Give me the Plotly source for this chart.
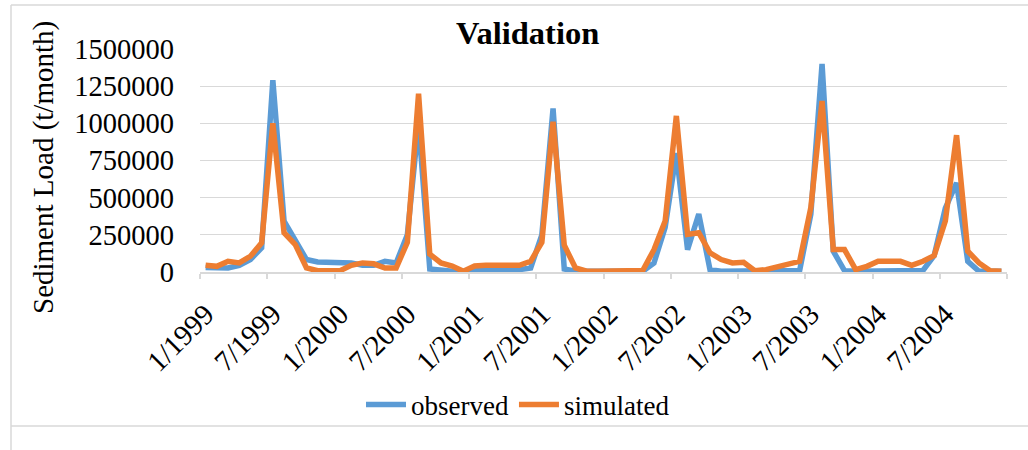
import plotly.graph_objects as go

# ---- data (monthly sediment load, t/month), Jan 1999 .. Dec 2004 ----
tick_labels = ["1/1999", "7/1999", "1/2000", "7/2000", "1/2001", "7/2001",
               "1/2002", "7/2002", "1/2003", "7/2003", "1/2004", "7/2004"]

observed = [
    30000, 27000, 27000, 45000, 84000, 163000, 1290000, 343000, 208000, 84000, 68000, 68000,
    61000, 61000, 45000, 45000, 72000, 61000, 250000, 1000000, 20000, 9000, 5000, 5000,
    9000, 16000, 16000, 16000, 16000, 27000, 250000, 1100000, 20000, 5000, 5000, 5000,
    5000, 5000, 5000, 5000, 60000, 300000, 800000, 150000, 390000, 16000, 5000, 5000,
    5000, 5000, 5000, 5000, 5000, 10000, 390000, 1400000, 140000, 9000, 5000, 5000,
    5000, 5000, 5000, 5000, 10000, 110000, 430000, 600000, 72000, 5000, 5000, 5000,
]
simulated = [
    45000, 38000, 72000, 61000, 106000, 196000, 1000000, 264000, 185000, 27000, 9000, 9000,
    9000, 45000, 61000, 55000, 27000, 27000, 200000, 1200000, 120000, 61000, 40000, 5000,
    40000, 45000, 45000, 45000, 45000, 72000, 200000, 1010000, 180000, 27000, 5000, 5000,
    5000, 5000, 5000, 10000, 150000, 343000, 1050000, 253000, 264000, 129000, 84000, 61000,
    65000, 9000, 16000, 32000, 50000, 72000, 434000, 1150000, 151000, 151000, 16000, 38000,
    72000, 72000, 72000, 45000, 72000, 110000, 343000, 920000, 140000, 61000, 9000, 5000,
]
y_ticks = [0, 250000, 500000, 750000, 1000000, 1250000, 1500000]

x = list(range(len(observed)))
tick_pos = list(range(0, len(observed), 6))

FONT = "Liberation Serif"
GRID = "#D9D9D9"

fig = go.Figure()
fig.add_trace(go.Scatter(x=x, y=observed, mode="lines", name="observed",
                         line=dict(color="#5B9BD5", width=5.5)))
fig.add_trace(go.Scatter(x=x, y=simulated, mode="lines", name="simulated",
                         line=dict(color="#ED7D31", width=5.5)))

# plot area in pixels: x 200..1007, y 49..272
L, R, T, B = 200, 1007, 49, 272
W, H = 1028, 450


def px(xp):
    return (xp - L) / (R - L)


def py(yp):
    return (B - yp) / (B - T)


fig.update_layout(
    width=W, height=H,
    margin=dict(l=L, r=W - R, t=T, b=H - B),
    paper_bgcolor="white", plot_bgcolor="white",
    font=dict(family=FONT, color="#000000"),
    showlegend=True,
    legend=dict(orientation="h", x=px(518), xanchor="center", y=py(405), yanchor="middle",
                font=dict(family=FONT, size=27, color="#000000"),
                itemwidth=40, bgcolor="rgba(0,0,0,0)"),
    xaxis=dict(range=[-0.5, len(observed) - 0.5], tickmode="array",
               tickvals=tick_pos, ticktext=tick_labels, tickangle=-45,
               ticks="", showgrid=False, zeroline=False,
               showline=True, linecolor=GRID, linewidth=1.5,
               ticklabelstandoff=12,
               tickfont=dict(family=FONT, size=29, color="#000000"),
               minor=dict(tickmode="linear", tick0=-0.5, dtick=6, ticks="outside",
                          ticklen=5, tickcolor=GRID, tickwidth=1.5, showgrid=False)),
    yaxis=dict(range=[0, 1500000], tickmode="array", tickvals=y_ticks,
               ticktext=[str(v) for v in y_ticks],
               showgrid=True, gridcolor=GRID, gridwidth=1.2, zeroline=False,
               showline=False, ticks="", ticklabelstandoff=25,
               tickfont=dict(family=FONT, size=28.5, color="#000000")),
    annotations=[
        dict(text="<b>Validation</b>", x=px(527), y=py(33), xref="paper", yref="paper",
             showarrow=False, xanchor="center", yanchor="middle",
             font=dict(family=FONT, size=32.5, color="#000000")),
        dict(text="Sediment Load (t/month)", x=px(43), y=py(168), xref="paper", yref="paper",
             showarrow=False, xanchor="center", yanchor="middle", textangle=-90,
             font=dict(family=FONT, size=29, color="#000000")),
    ],
    shapes=[
        dict(type="line", xref="paper", yref="paper", x0=px(11), x1=px(1028), y0=py(5), y1=py(5),
             line=dict(color=GRID, width=1.5)),
        dict(type="line", xref="paper", yref="paper", x0=px(11), x1=px(11), y0=py(5), y1=py(450),
             line=dict(color=GRID, width=1.5)),
        dict(type="line", xref="paper", yref="paper", x0=px(11), x1=px(1028), y0=py(426), y1=py(426),
             line=dict(color=GRID, width=1.5)),
    ],
)

fig.write_html("out.html")
